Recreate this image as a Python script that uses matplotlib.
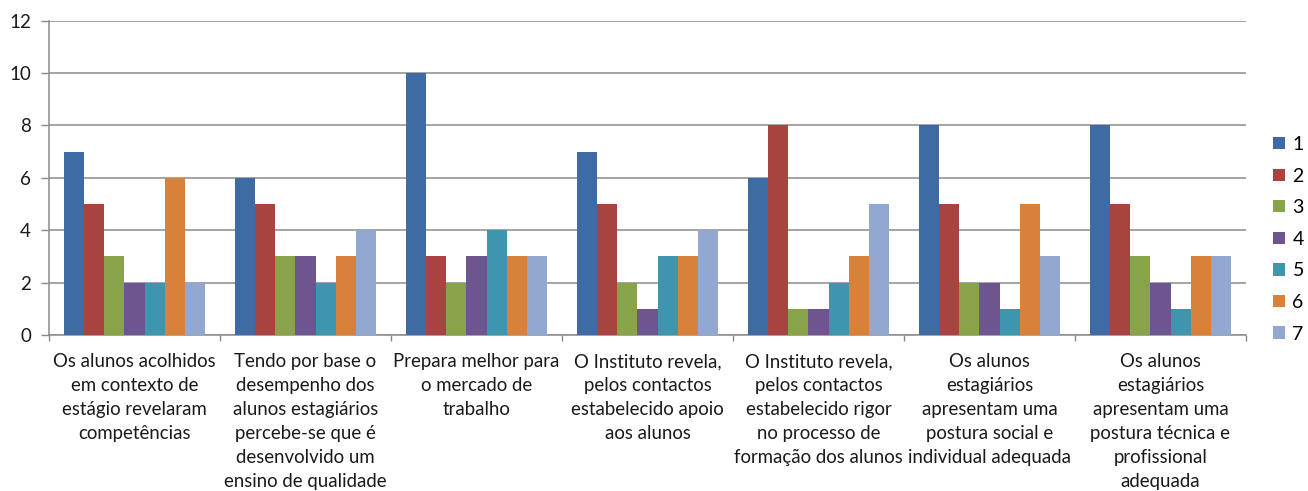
import matplotlib
matplotlib.use("Agg")
import matplotlib.pyplot as plt
from matplotlib.patches import Patch
import numpy as np

categories = [
    "Os alunos acolhidos\nem contexto de\nestágio revelaram\ncompetências",
    "Tendo por base o\ndesempenho dos\nalunos estagiários\npercebe-se que é\ndesenvolvido um\nensino de qualidade",
    "Prepara melhor para\no mercado de\ntrabalho",
    "O Instituto revela,\npelos contactos\nestabelecido apoio\naos alunos",
    "O Instituto revela,\npelos contactos\nestabelecido rigor\nno processo de\nformação dos alunos",
    "Os alunos\nestagiários\napresentam uma\npostura social e\nindividual adequada",
    "Os alunos\nestagiários\napresentam uma\npostura técnica e\nprofissional\nadequada",
]
series_labels = ["1", "2", "3", "4", "5", "6", "7"]
s1 = [7, 6, 10, 7, 6, 8, 8]
s2 = [5, 5, 3, 5, 8, 5, 5]
s3 = [3, 3, 2, 2, 1, 2, 3]
s4 = [2, 3, 3, 1, 1, 2, 2]
s5 = [2, 2, 4, 3, 2, 1, 1]
s6 = [6, 3, 3, 3, 3, 5, 3]
s7 = [2, 4, 3, 4, 5, 3, 3]
series = [s1, s2, s3, s4, s5, s6, s7]
colors = ["#3F6BA5", "#A8443F", "#88A34A", "#6D5590", "#3E95AE", "#D8813B", "#93A8D1"]
yticks = [0, 2, 4, 6, 8, 10, 12]

plt.rcParams['font.family'] = ['Lato', 'DejaVu Sans']

W, H = 1308, 491
fig = plt.figure(figsize=(W / 100, H / 100), dpi=100)
x0, x1, ytop, ybot = 49, 1246, 20.5, 335
ax = fig.add_axes([x0 / W, 1 - ybot / H, (x1 - x0) / W, (ybot - ytop) / H])

n = len(series)
group_w = 0.825
bw = group_w / n
x = np.arange(len(categories))
for i, (vals, c) in enumerate(zip(series, colors)):
    ax.bar(x - group_w / 2 + bw * (i + 0.5), vals, width=bw, color=c, zorder=3, linewidth=0)

ax.set_xlim(-0.5, len(categories) - 0.5)
ax.set_ylim(0, 12)
ax.set_yticks(yticks)
ax.set_yticklabels([str(v) for v in yticks], fontsize=13.5, color="#1a1a1a")
ax.tick_params(axis='y', length=6, width=1, color="#8a8a8a", pad=7, direction='out')
ax.yaxis.grid(True, color="#8c8c8c", linewidth=1.1, zorder=0)
ax.set_axisbelow(True)

ax.set_xticks(x)
ax.set_xticklabels(categories, fontsize=13.4, color="#1a1a1a", linespacing=1.5)
ax.tick_params(axis='x', which='major', length=0, pad=13)
ax.set_xticks(np.arange(-0.5, len(categories)), minor=True)
ax.tick_params(axis='x', which='minor', length=4, width=1, color="#8a8a8a", direction='out')

for s in ["top", "right"]:
    ax.spines[s].set_visible(False)
for s in ["left", "bottom"]:
    ax.spines[s].set_color("#8a8a8a")
    ax.spines[s].set_linewidth(1.1)

handles = [Patch(facecolor=c, edgecolor='none') for c in colors]
fig.legend(handles, series_labels, loc='upper left',
           bbox_to_anchor=(1273 / W, 1 - 136 / H), frameon=False,
           fontsize=14, handlelength=0.6, handleheight=0.6,
           handletextpad=0.4, labelspacing=0.75, borderaxespad=0, borderpad=0)

fig.savefig("out.png", dpi=100)
